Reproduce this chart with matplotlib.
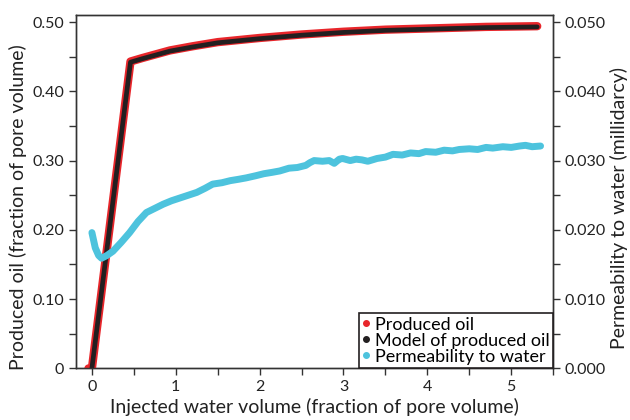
import matplotlib
matplotlib.use("Agg")
import matplotlib.pyplot as plt
from matplotlib.lines import Line2D
from matplotlib.ticker import MultipleLocator, FuncFormatter

plt.rcParams['font.family'] = ['Lato', 'DejaVu Sans']

# produced oil (fraction of pore volume) vs injected water volume
oil_x = [0.0, 0.46, 0.6, 0.93, 1.2, 1.5, 2.0, 2.5, 3.0, 3.5, 4.1, 4.7, 5.31]
oil_y = [0.0, 0.443, 0.448, 0.459, 0.465, 0.471, 0.477, 0.482, 0.486, 0.489, 0.491, 0.493, 0.494]

model_x = [0.0, 0.46, 0.6, 0.93, 1.2, 1.5, 2.0, 2.5, 3.0, 3.5, 4.1, 4.7, 5.31]
model_y = [0.0, 0.442, 0.447, 0.458, 0.464, 0.470, 0.476, 0.481, 0.485, 0.488, 0.490, 0.492, 0.493]

# permeability to water (millidarcy)
perm_x = [0.0, 0.02, 0.04, 0.08, 0.115, 0.18, 0.25, 0.35, 0.45, 0.55, 0.65, 0.75, 0.85,
          0.95, 1.05, 1.15, 1.25, 1.35, 1.44, 1.55, 1.65, 1.75, 1.84, 1.95, 2.05, 2.15,
          2.24, 2.35, 2.45, 2.55, 2.6, 2.65, 2.75, 2.83, 2.89, 2.95, 2.99, 3.08, 3.15,
          3.22, 3.29, 3.4, 3.5, 3.59, 3.7, 3.8, 3.9, 3.98, 4.1, 4.2, 4.3, 4.38, 4.5,
          4.6, 4.7, 4.78, 4.9, 5.0, 5.1, 5.17, 5.25, 5.35]
perm_y = [0.0196, 0.0185, 0.0174, 0.0163, 0.0159, 0.0163, 0.0169, 0.0182, 0.0196,
          0.0212, 0.0225, 0.0231, 0.0237, 0.0242, 0.0246, 0.0250, 0.0254, 0.0260,
          0.0266, 0.0268, 0.0271, 0.0273, 0.0275, 0.0278, 0.0281, 0.0283, 0.0285,
          0.0289, 0.0290, 0.0293, 0.0297, 0.0300, 0.0299, 0.0300, 0.0296, 0.0302,
          0.0303, 0.0300, 0.0302, 0.0301, 0.0299, 0.0303, 0.0305, 0.0309, 0.0308,
          0.0311, 0.0310, 0.0313, 0.0312, 0.0315, 0.0314, 0.0316, 0.0317, 0.0316,
          0.0319, 0.0318, 0.0320, 0.0319, 0.0321, 0.0322, 0.0320, 0.0321]

red = '#e8262b'
black = '#231f20'
cyan = '#4dc3dd'

fig = plt.figure(figsize=(6.3, 4.2), dpi=100)
ax = fig.add_axes([0.1206, 0.123, 0.7574, 0.841])
ax2 = ax.twinx()

ax.plot(oil_x, oil_y, color=red, lw=6, solid_capstyle='round', zorder=3)
ax.plot([oil_x[0] - 0.05], [oil_y[0]], 'o', color=red, ms=5, zorder=3)
ax.plot(model_x, model_y, color=black, lw=3.4, solid_capstyle='round', zorder=4)
ax2.plot(perm_x, perm_y, color=cyan, lw=5, solid_capstyle='round', solid_joinstyle='round')

ax.set_xlim(-0.19, 5.5)
ax.set_ylim(0, 0.51)
ax2.set_ylim(0, 0.051)

ax.xaxis.set_major_locator(MultipleLocator(1))
ax.xaxis.set_minor_locator(MultipleLocator(0.5))
ax.yaxis.set_major_locator(MultipleLocator(0.1))
ax.yaxis.set_minor_locator(MultipleLocator(0.05))
ax2.yaxis.set_major_locator(MultipleLocator(0.01))
ax2.yaxis.set_minor_locator(MultipleLocator(0.005))

ax.yaxis.set_major_formatter(FuncFormatter(lambda v, p: '0' if abs(v) < 1e-9 else '%.2f' % v))
ax2.yaxis.set_major_formatter(FuncFormatter(lambda v, p: '%.3f' % v))

for a in (ax, ax2):
    a.tick_params(which='both', direction='out', length=5, width=1, colors='#333333',
                  labelsize=11.5, labelcolor='#222222')
    for s in a.spines.values():
        s.set_color('#333333')
        s.set_linewidth(1)

ax.set_xlabel('Injected water volume (fraction of pore volume)', fontsize=14, color='#222222')
ax.set_ylabel('Produced oil (fraction of pore volume)', fontsize=14, color='#222222')
ax2.set_ylabel('Permeability to water (millidarcy)', fontsize=14, color='#222222')
ax.xaxis.set_label_coords(0.5, -0.085)
ax.yaxis.set_label_coords(-0.103, 0.456)
ax2.yaxis.set_label_coords(1.118, 0.454)

handles = [
    Line2D([], [], ls='none', marker='o', ms=4, color=red),
    Line2D([], [], ls='none', marker='o', ms=4, color=black),
    Line2D([], [], ls='none', marker='o', ms=4, color=cyan),
]
leg = ax2.legend(handles, ['Produced oil', 'Model of produced oil', 'Permeability to water'],
                 loc='lower right', borderaxespad=0, fancybox=False, framealpha=1,
                 edgecolor=black, fontsize=13, handlelength=0.4, handletextpad=0.3,
                 borderpad=0.2, labelspacing=0.0)
leg.get_frame().set_linewidth(1.2)

fig.savefig('out.png', dpi=100)
